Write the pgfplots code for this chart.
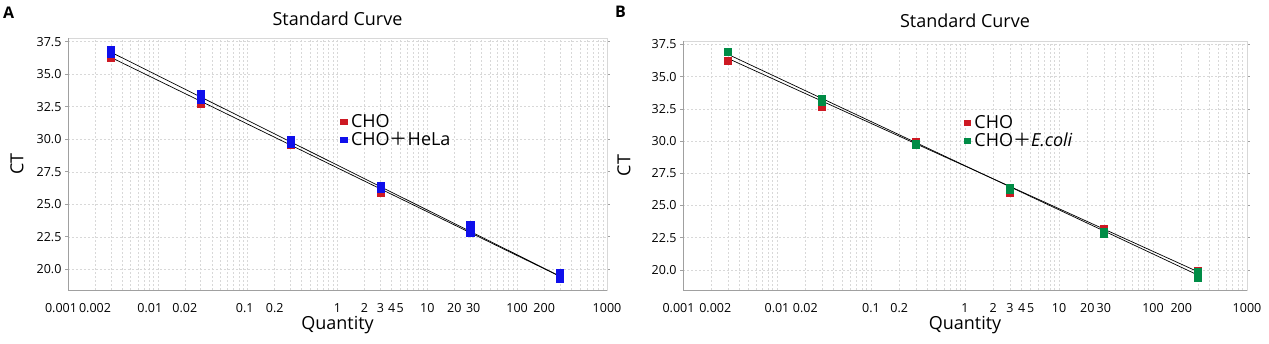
\documentclass[border=0pt]{standalone}
\usepackage{fontspec}
\setmainfont{Open Sans}
\newfontfamily\cjk{Noto Sans CJK SC}
\usepackage{pgfplots}
\pgfplotsset{compat=1.18}

\definecolor{chored}{RGB}{205,25,35}
\definecolor{heblue}{RGB}{15,15,235}
\definecolor{ecgreen}{RGB}{0,140,70}
\definecolor{gridc}{RGB}{216,216,216}
\definecolor{axisc}{RGB}{160,160,160}

\tikzset{
  mk/.style={mark=square*, mark size=3.6pt},
  fitl/.style={black, line width=0.7pt},
}

\pgfplotsset{
  stdc/.style={
    scale only axis,
    xmin=0.001, xmax=1000,
    xtick={0.001,0.002,0.01,0.02,0.1,0.2,1,2,3,4,5,10,20,30,100,200,1000},
    minor xtick={0.003,0.004,0.005,0.006,0.007,0.008,0.009,
                 0.03,0.04,0.05,0.06,0.07,0.08,0.09,
                 0.3,0.4,0.5,0.6,0.7,0.8,0.9,
                 6,7,8,9,40,50,60,70,80,90,
                 300,400,500,600,700,800,900},
    ytick={20,22.5,25,27.5,30,32.5,35,37.5},
    yticklabels={20.0,22.5,25.0,27.5,30.0,32.5,35.0,37.5},
    grid=both,
    major grid style={gridc, dash pattern=on 2pt off 2pt, line width=0.6pt},
    minor grid style={gridc, dash pattern=on 2pt off 2pt, line width=0.6pt},
    axis line style={gridc, line width=0.7pt},
    xtick style={draw=none},
    minor tick length=0pt,
    ytick style={draw=axisc, line width=0.7pt},
    major tick length=3pt,
    tick align=outside,
    tick label style={font=\fontsize{12.5}{15}\selectfont, text=black},
    xticklabel style={yshift=-7pt},
    title style={at={(axis description cs:0.5,1)}, anchor=base, yshift=7pt,
                 font=\fontsize{18}{20}\selectfont},
    label style={font=\fontsize{18}{20}\selectfont},
    title={Standard Curve},
    xlabel={Quantity},
    ylabel={CT},
    legend style={draw=none, fill=none, anchor=north west, inner sep=0pt,
                  font=\fontsize{18}{20}\selectfont,
                  nodes={inner sep=1pt}, row sep=1pt,
                  /tikz/every odd column/.append style={column sep=3pt}},
    legend cell align=left,
  }
}

\begin{document}
\begin{tikzpicture}
\useasboundingbox (0,0) rectangle (1269pt,343pt);
\node[anchor=base west, font=\fontsize{16}{18}\selectfont\bfseries, inner sep=0pt] at (3pt,324pt) {A};
\node[anchor=base west, font=\fontsize{16}{18}\selectfont\bfseries, inner sep=0pt] at (615pt,325pt) {B};

% Panel A
\begin{semilogxaxis}[stdc,
  at={(68pt,53pt)}, anchor=south west,
  width=539pt, height=252pt,
  ymin=18.41, ymax=37.79,
  xticklabels={0.001\hspace*{14pt},0.002,0.01\hspace*{16pt},0.02,0.1\hspace*{6pt},0.2,1,2,3,4,5,10,20,\hspace*{6pt}30,100,200,1000},
  ylabel style={at={(axis description cs:-0.0946,0.5)}, anchor=center},
  xlabel style={at={(axis description cs:0.5,-0.1587)}, anchor=base},
  legend style={at={(axis description cs:0.5046,0.70)}},
]
\draw[axisc, line width=0.7pt] (rel axis cs:0,1) -- (rel axis cs:0,0) -- (rel axis cs:1,0);
\addplot[fitl, forget plot] coordinates {(0.003,36.30) (300,19.45)};
\addplot[fitl, forget plot] coordinates {(0.003,36.70) (300,19.47)};
\addplot[only marks, mk, color=chored, forget plot] coordinates {
  (0.003,36.29) (0.03,32.72) (0.3,29.60) (3,25.91) (30,23.10) (300,19.50)};
\addplot[only marks, mk, color=heblue, forget plot] coordinates {
  (0.003,36.91) (0.003,36.60) (0.03,33.52) (0.03,33.06)
  (0.3,29.98) (0.3,29.68) (3,26.45) (3,26.22)
  (30,23.40) (30,22.83) (300,19.75) (300,19.29)};
\addlegendimage{legend image code/.code={\fill[chored] (0pt,-2.6pt) rectangle (6.5pt,2.9pt);}}
\addlegendentry{CHO}
\addlegendimage{legend image code/.code={\fill[heblue] (0pt,-2.6pt) rectangle (6.5pt,2.9pt);}}
\addlegendentry{CHO{\cjk ＋}HeLa}
\end{semilogxaxis}

% Panel B
\begin{semilogxaxis}[stdc,
  at={(683pt,53pt)}, anchor=south west,
  width=564pt, height=249pt,
  ymin=18.44, ymax=37.77,
  xticklabels={0.001\hspace*{9pt},\hspace*{8pt}0.002,0.01,0.02,0.1,0.2,1,2,3,4,5,10,20,30,100,200,1000},
  ylabel style={at={(axis description cs:-0.1046,0.5)}, anchor=center},
  xlabel style={at={(axis description cs:0.5,-0.1606)}, anchor=base},
  legend style={at={(axis description cs:0.497,0.705)}},
]
\draw[axisc, line width=0.7pt] (rel axis cs:0,1) -- (rel axis cs:0,0) -- (rel axis cs:1,0);
\addplot[fitl, forget plot] coordinates {(0.003,36.42) (300,19.86)};
\addplot[fitl, forget plot] coordinates {(0.003,36.74) (300,19.60)};
\addplot[only marks, mk, color=chored, forget plot] coordinates {
  (0.003,36.22) (0.03,32.65) (0.3,29.95) (3,26.00) (30,23.21) (300,19.90)};
\addplot[only marks, mk, color=ecgreen, forget plot] coordinates {
  (0.003,36.92) (0.03,33.31) (0.03,33.07)
  (0.3,29.81) (0.3,29.70) (3,26.38) (3,26.22)
  (30,22.94) (30,22.79) (300,19.84) (300,19.37)};
\addlegendimage{legend image code/.code={\fill[chored] (0pt,-2.6pt) rectangle (6.5pt,2.9pt);}}
\addlegendentry{CHO}
\addlegendimage{legend image code/.code={\fill[ecgreen] (0pt,-2.6pt) rectangle (6.5pt,2.9pt);}}
\addlegendentry{CHO{\cjk ＋}\textit{E.coli}}
\end{semilogxaxis}
\end{tikzpicture}
\end{document}
